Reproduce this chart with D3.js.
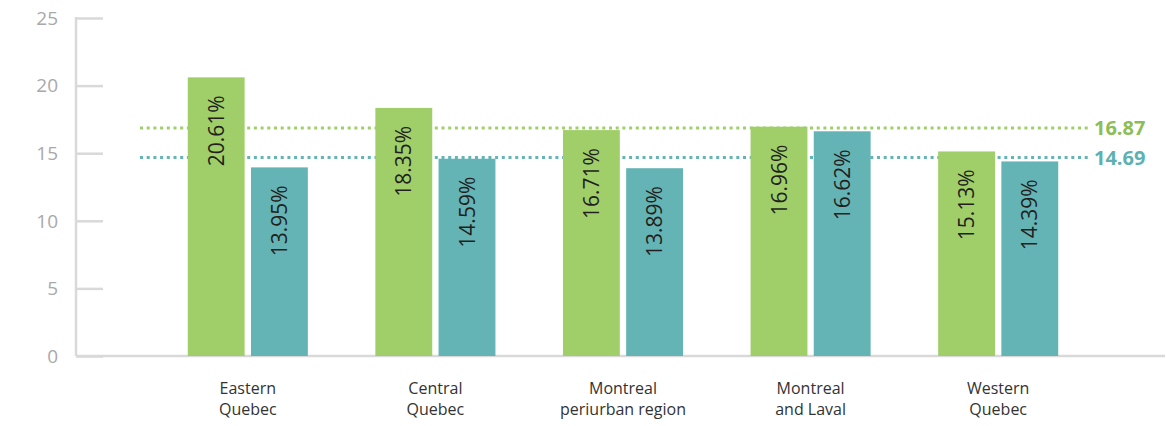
<!DOCTYPE html>
<meta charset="utf-8">
<script src="https://d3js.org/d3.v7.min.js"></script>
<style>
  body { margin: 0; background: #fff; }
  text { font-family: "Open Sans", sans-serif; }
</style>
<body>
<svg id="chart" width="1166" height="426"></svg>
<script>
  // data
  var categories = [["Eastern", "Quebec"], ["Central", "Quebec"], ["Montreal", "periurban region"], ["Montreal", "and Laval"], ["Western", "Quebec"]];
  var greenValues = [20.61, 18.35, 16.71, 16.96, 15.13];
  var tealValues = [13.95, 14.59, 13.89, 16.62, 14.39];
  var averages = [16.87, 14.69];
  var yTicks = [0, 5, 10, 15, 20, 25];

  var green = "#a0cf6a", teal = "#64b4b5";
  var greenText = "#8dbd55", tealText = "#5db1b2";

  var svg = d3.select("#chart");

  var y = d3.scaleLinear().domain([0, 25]).range([356, 18]);

  var x0 = d3.scaleBand()
      .domain(d3.range(categories.length))
      .range([154, 1092])
      .paddingInner(0.36)
      .paddingOuter(0.18);

  var x1 = d3.scaleBand()
      .domain(["g", "t"])
      .range([0, x0.bandwidth()])
      .paddingInner(0.1);

  // y axis
  var yAxis = svg.append("g")
      .attr("transform", "translate(76,0)")
      .call(d3.axisRight(y).tickValues(yTicks).tickSize(27).tickFormat(""));
  yAxis.select(".domain").remove();
  yAxis.selectAll(".tick line").attr("stroke", "#d9d9d9").attr("stroke-width", 2.5);

  svg.append("line")
      .attr("x1", 76).attr("x2", 76)
      .attr("y1", y(25) - 1).attr("y2", y(0))
      .attr("stroke", "#d9d9d9").attr("stroke-width", 2.5);

  svg.selectAll(".ylab")
      .data(yTicks)
      .enter().append("text")
      .attr("x", 58)
      .attr("y", function(d){ return y(d); })
      .attr("dy", "0.36em")
      .attr("text-anchor", "end")
      .style("font-size", "19px")
      .style("fill", "#a9a9ab")
      .text(function(d){ return d; });

  // baseline
  svg.append("line")
      .attr("x1", 76).attr("x2", 1165)
      .attr("y1", y(0)).attr("y2", y(0))
      .attr("stroke", "#d9d9d9").attr("stroke-width", 2.5);

  // average lines (behind the bars)
  var avgColors = [green, teal];
  var avgTextColors = [greenText, tealText];
  averages.forEach(function(a, k) {
    svg.append("line")
      .attr("x1", 140).attr("x2", 1088)
      .attr("y1", y(a)).attr("y2", y(a))
      .attr("stroke", avgColors[k])
      .attr("stroke-width", 3)
      .attr("stroke-dasharray", "3,3.7");
    svg.append("text")
      .attr("x", 1094)
      .attr("y", y(a))
      .attr("dy", "0.36em")
      .style("font-size", "20px")
      .style("font-weight", "bold")
      .style("fill", avgTextColors[k])
      .text(a.toFixed(2));
  });

  // bars
  var groups = svg.selectAll(".grp")
      .data(categories)
      .enter().append("g")
      .attr("transform", function(d, i){ return "translate(" + x0(i) + ",0)"; });

  groups.each(function(d, i) {
    var g = d3.select(this);
    var vals = [["g", greenValues[i], green], ["t", tealValues[i], teal]];
    vals.forEach(function(v) {
      g.append("rect")
        .attr("x", x1(v[0]))
        .attr("y", y(v[1]))
        .attr("width", x1.bandwidth())
        .attr("height", y(0) - y(v[1]))
        .attr("fill", v[2]);
    });
  });

  // value labels
  groups.each(function(d, i) {
    var g = d3.select(this);
    [["g", greenValues[i]], ["t", tealValues[i]]].forEach(function(v) {
      var cx = x1(v[0]) + x1.bandwidth() / 2;
      var top = y(v[1]) + 18;
      g.append("text")
        .attr("transform", "translate(" + cx + "," + top + ") rotate(-90)")
        .attr("text-anchor", "end")
        .attr("dy", "0.36em")
        .style("font-size", "21px")
        .style("fill", "#231f20")
        .text(v[1].toFixed(2) + "%");
    });
  });

  // category labels
  groups.each(function(d, i) {
    var t = d3.select(this).append("text")
      .attr("text-anchor", "middle")
      .style("font-size", "16px")
      .style("fill", "#333")
      .attr("x", x0.bandwidth() / 2);
    d.forEach(function(line, j) {
      t.append("tspan")
        .attr("x", x0.bandwidth() / 2)
        .attr("y", 394 + j * 21)
        .text(line);
    });
  });
</script>
</body>
